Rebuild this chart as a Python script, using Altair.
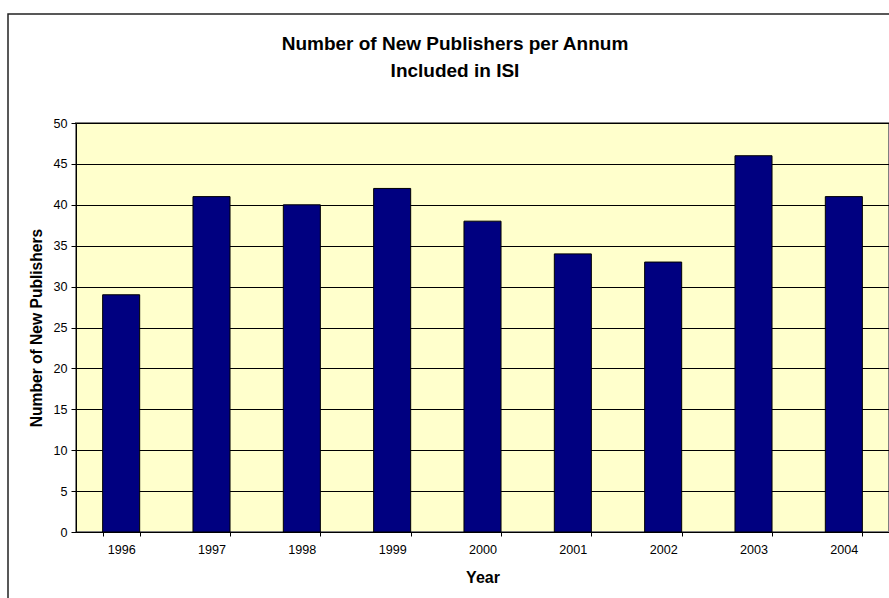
import altair as alt
import pandas as pd

years = ["1996", "1997", "1998", "1999", "2000", "2001", "2002", "2003", "2004"]
publishers = [29, 41, 40, 42, 38, 34, 33, 46, 41]
y_ticks = [0, 5, 10, 15, 20, 25, 30, 35, 40, 45, 50]
title_lines = ["Number of New Publishers per Annum", "Included in ISI"]

df = pd.DataFrame({"Year": years, "Publishers": publishers})

FONT = "Liberation Sans"
W, H = 813, 409

bars = alt.Chart(df).mark_bar(
    color="#000080", stroke="#000000", strokeWidth=1
).encode(
    x=alt.X(
        "Year:N",
        sort=years,
        scale=alt.Scale(paddingInner=0.59, paddingOuter=0.295),
        axis=alt.Axis(
            title="Year", labelAngle=0, tickBand="extent", tickSize=4,
            labelPadding=7, labelFontSize=12.6, labelColor="#000000",
            titleFontSize=16, titleFontWeight="bold", titlePadding=14,
            titleColor="#000000", domainColor="#000000", tickColor="#000000",
            grid=False, labelFont=FONT, titleFont=FONT,
        ),
    ),
    y=alt.Y(
        "Publishers:Q",
        scale=alt.Scale(domain=[0, 50], nice=False),
        axis=alt.Axis(
            title="Number of New Publishers", values=y_ticks, tickSize=5,
            labelPadding=4, labelFontSize=12.6, labelColor="#000000",
            titleFontSize=15.6, titleFontWeight="bold", titlePadding=8,
            titleColor="#000000", domainColor="#000000", tickColor="#000000",
            grid=True, gridColor="#000000", gridWidth=1,
            labelFont=FONT, titleFont=FONT,
        ),
    ),
)

frame = alt.Chart(alt.Data(values=[{}])).mark_rect(
    fill="transparent", stroke="#222222", strokeWidth=1.5, clip=False
).encode(
    x=alt.value(-68), y=alt.value(-109), x2=alt.value(W + 30), y2=alt.value(H + 120)
)

title1 = alt.Chart(alt.Data(values=[{"t": title_lines[0]}])).mark_text(
    font=FONT, fontSize=19, fontWeight="bold", color="#000000",
    align="center", baseline="alphabetic", clip=False
).encode(text="t:N", x=alt.value(455 - 76), y=alt.value(50 - 123))

title2 = alt.Chart(alt.Data(values=[{"t": title_lines[1]}])).mark_text(
    font=FONT, fontSize=19, fontWeight="bold", color="#000000",
    align="center", baseline="alphabetic", clip=False
).encode(text="t:N", x=alt.value(455 - 76), y=alt.value(77 - 123))

chart = alt.layer(bars, frame, title1, title2).properties(
    width=W,
    height=H,
    autosize=alt.AutoSizeParams(type="none"),
    padding={"left": 76, "top": 123, "right": 0, "bottom": 66},
).configure(
    background="#FFFFFF"
).configure_view(
    fill="#FFFFCC", stroke="#808080", strokeWidth=2
)

chart.save("out.html", embed_options={"renderer": "svg", "actions": False})
